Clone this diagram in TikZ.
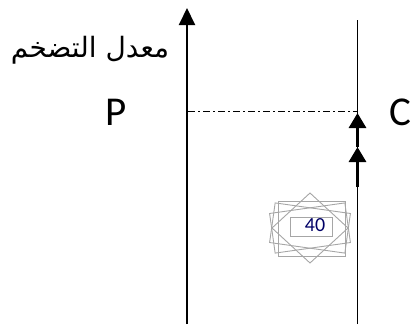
\documentclass[tikz,border=0pt]{standalone}
\usepackage{fontspec}
\setmainfont{Carlito}
\newfontfamily\arabicfont[Script=Arabic]{DejaVu Sans}
\TeXXeTstate=1
\usetikzlibrary{arrows.meta}
\tikzset{
  axisline/.style={line width=2pt},
  tri/.style={-{Triangle[width=16pt,length=17pt]}},
  smalltri/.style={-{Triangle[width=17pt,length=15pt]}},
  wm/.style={draw=black!35, line width=0.9pt},
  bigletter/.style={font=\fontsize{41}{41}\selectfont, inner sep=0pt}
}
\begin{document}
\begin{tikzpicture}[x=1pt,y=-1pt]
\useasboundingbox (0,0) rectangle (414,324);
% coordinates
\coordinate (lb) at (187,324);
\coordinate (lt) at (187,8);
\coordinate (rt) at (357.5,20);
\coordinate (rb) at (357.5,324);
\coordinate (a0) at (357.5,187);
\coordinate (a1) at (357.5,147);
\coordinate (a2) at (357.5,113);
\coordinate (dl) at (188,111);
\coordinate (dr) at (357.5,111);
% axes
\draw[axisline,tri] (lb) -- (lt);
\draw[line width=1.5pt] (rb) -- (rt);
\draw[line width=3pt,smalltri] (a0) -- (a1);
\draw[line width=3pt,smalltri] (a1) -- (a2);
\draw[line width=1pt,dash pattern=on 7pt off 3pt on 2pt off 3pt] (dl) -- (dr);
% labels
\node[bigletter] (P) at (116,112) {P};
\node[bigletter,anchor=west] (C) at (389,112) {C};
\node[inner sep=0pt,font=\fontsize{28}{28}\selectfont\arabicfont] (lab) at (90,50) {\beginR معدل التضخم\endR};
% watermark
\begin{scope}[shift={(310,228)}]
\draw[wm] (0,-35) -- (38,0) -- (0,35) -- (-38,0) -- cycle;
\draw[wm] (-32,-27) rectangle (35,28);
\draw[wm,rotate=8] (-38,-20) rectangle (38,20);
\draw[wm,rotate=-8] (-38,-20) rectangle (38,20);
\draw[wm] (-20,-11) rectangle (22,8);
\node[text=blue!40!black,font=\fontsize{20}{20}\selectfont,inner sep=0pt] (n40) at (5,-3) {40};
\end{scope}
\end{tikzpicture}
\end{document}
